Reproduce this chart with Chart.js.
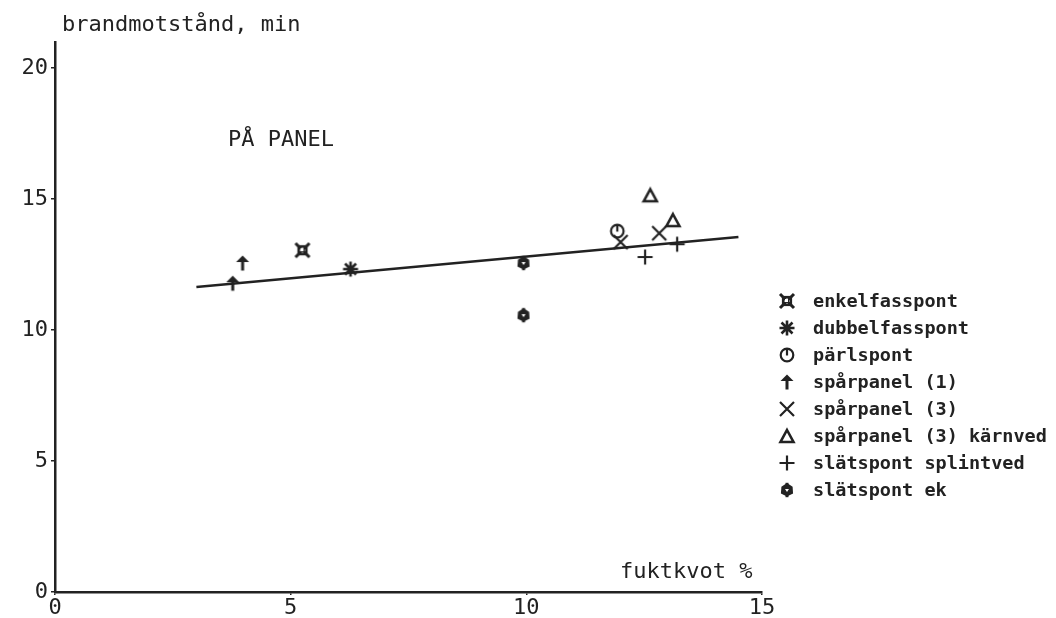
<!DOCTYPE html>
<html>
<head>
<meta charset="utf-8">
<script src="https://cdn.jsdelivr.net/npm/chart.js@4/dist/chart.umd.min.js"></script>
<style>
html,body{margin:0;padding:0;background:#fff;}
#wrap{width:1056px;height:618px;}
</style>
</head>
<body>
<div id="wrap"><canvas id="c" width="1056" height="618"></canvas></div>
<script>
// ---- data ----
const seriesNames = ["enkelfasspont","dubbelfasspont","pärlspont","spårpanel (1)","spårpanel (3)","spårpanel (3) kärnved","slätspont splintved","slätspont ek"];
const xEnkel = [5.25];        const yEnkel = [13.05];
const xDubbel = [6.27];       const yDubbel = [12.33];
const xParl = [11.93];        const yParl = [13.78];
const xSpar1 = [3.98, 3.77];  const ySpar1 = [12.56, 11.79];
const xSpar3 = [12.0, 12.82]; const ySpar3 = [13.36, 13.7];
const xKarn = [12.63, 13.11]; const yKarn = [15.15, 14.2];
const xSplint = [12.52, 13.2];const ySplint = [12.79, 13.28];
const xEk = [9.94, 9.94];     const yEk = [12.56, 10.57];
const xLine = [3.0, 14.5];    const yLine = [11.65, 13.55];
const xTicks = [0, 5, 10, 15];
const yTicks = [0, 5, 10, 15, 20];
const xTitle = "fuktkvot %";
const yTitle = "brandmotstånd, min";
const note = "PÅ PANEL";

// ---- marker images ----
const INK = '#222';
function mk(draw){
  const c = document.createElement('canvas'); c.width = 18; c.height = 18;
  const g = c.getContext('2d'); g.strokeStyle = INK; g.fillStyle = INK; g.lineCap='butt';
  draw(g); return c;
}
const mEnkel = mk(g=>{
  g.lineWidth=3; g.beginPath(); g.moveTo(2,2); g.lineTo(16,16); g.moveTo(16,2); g.lineTo(2,16); g.stroke();
  g.lineWidth=2.2; g.strokeRect(5,5,8,8);
  g.fillStyle='#fff'; g.fillRect(7,7,3,3);
});
const mDubbel = mk(g=>{
  g.lineWidth=2.6; g.beginPath();
  g.moveTo(9,1.5); g.lineTo(9,16.5); g.moveTo(1.5,9); g.lineTo(16.5,9);
  g.moveTo(3.5,3.5); g.lineTo(14.5,14.5); g.moveTo(14.5,3.5); g.lineTo(3.5,14.5); g.stroke();
});
const mParl = mk(g=>{
  g.lineWidth=2.2; g.beginPath(); g.arc(9,9,6.3,0,Math.PI*2); g.stroke();
  g.beginPath(); g.moveTo(9,2.5); g.lineTo(9,9.5); g.stroke();
});
const mArrow = mk(g=>{
  g.beginPath(); g.moveTo(9,1.5); g.lineTo(15.5,8); g.lineTo(2.5,8); g.closePath(); g.fill();
  g.fillRect(7.5,7,3,9.5);
});
const mX = mk(g=>{
  g.lineWidth=2.2; g.beginPath(); g.moveTo(2,2); g.lineTo(16,16); g.moveTo(16,2); g.lineTo(2,16); g.stroke();
});
const mTri = mk(g=>{
  g.lineWidth=2.6; g.lineJoin='miter'; g.beginPath(); g.moveTo(9,3); g.lineTo(15.5,15); g.lineTo(2.5,15); g.closePath(); g.stroke();
});
const mPlus = mk(g=>{
  g.lineWidth=2.2; g.beginPath(); g.moveTo(9,1.5); g.lineTo(9,16.5); g.moveTo(1.5,9); g.lineTo(16.5,9); g.stroke();
});
const mEk = mk(g=>{
  g.beginPath();
  for(let i=0;i<6;i++){const a=Math.PI/6+i*Math.PI/3; const r=(i%2?6.5:7); g.lineTo(9+r*Math.cos(a),9+r*Math.sin(a));}
  g.closePath(); g.fill();
  g.fillRect(7.5,1.8,3,2); g.fillRect(7.5,14.2,3,2);
  g.fillStyle='#fff'; g.beginPath(); g.moveTo(7,8); g.lineTo(11,8); g.lineTo(9,11); g.closePath(); g.fill();
});
const markers = [mEnkel,mDubbel,mParl,mArrow,mX,mTri,mPlus,mEk];

function pts(xs, ys){ return xs.map((x,i)=>({x:x, y:ys[i]})); }
const seriesX = [xEnkel,xDubbel,xParl,xSpar1,xSpar3,xKarn,xSplint,xEk];
const seriesY = [yEnkel,yDubbel,yParl,ySpar1,ySpar3,yKarn,ySplint,yEk];

const datasets = [{
  type:'line', label:'regression', data: pts(xLine,yLine),
  borderColor: INK, borderWidth: 2.5, pointRadius: 0, fill:false, order: 2
}];
seriesNames.forEach((n,i)=>{
  datasets.push({type:'scatter', label:n, data: pts(seriesX[i],seriesY[i]),
    pointStyle: markers[i], pointRadius: 9, order: 1});
});

const FONT = "'DejaVu Sans Mono', monospace";

const textPlugin = {
  id:'texts',
  afterDraw(chart){
    const ctx = chart.ctx, xs = chart.scales.x, ys = chart.scales.y;
    ctx.save();
    ctx.fillStyle = INK;
    ctx.font = "22px " + FONT;
    ctx.textBaseline = 'middle';
    ctx.textAlign = 'left';
    ctx.fillText(yTitle, xs.left + 7, 25);
    ctx.textAlign = 'right';
    ctx.fillText(xTitle, xs.getPixelForValue(14.8), ys.bottom - 20);
    ctx.textAlign = 'left';
    ctx.fillText(note, xs.getPixelForValue(3.67), ys.getPixelForValue(17.25));
    // legend
    ctx.font = "bold 18.5px " + FONT;
    const x0 = xs.right + 25, tx = xs.right + 51;
    let y = 301;
    seriesNames.forEach((n,i)=>{
      ctx.drawImage(markers[i], x0 - 9, y - 9);
      ctx.fillText(n, tx, y + 1);
      y += 27;
    });
    ctx.restore();
  }
};

new Chart(document.getElementById('c'), {
  data: { datasets },
  plugins: [textPlugin],
  options: {
    responsive:false, animation:false, events:[],
    layout:{ padding:{ left:0, right:294, top:42, bottom:0 } },
    plugins:{ legend:{display:false}, tooltip:{enabled:false} },
    scales:{
      x:{ type:'linear', min:0, max:15,
        afterBuildTicks(s){ s.ticks = xTicks.map(v=>({value:v})); },
        afterFit(s){ s.height = 26; },
        border:{ color:INK, width:2.5 },
        grid:{ drawOnChartArea:false, drawTicks:true, tickLength:3, color:INK, lineWidth:1.5 },
        ticks:{ color:INK, font:{family:FONT, size:22}, padding:0, maxRotation:0 }
      },
      y:{ type:'linear', min:0, max:21,
        afterBuildTicks(s){ s.ticks = yTicks.map(v=>({value:v})); },
        afterFit(s){ s.width = 55; },
        border:{ color:INK, width:2.5 },
        grid:{ drawOnChartArea:false, drawTicks:true, tickLength:4, color:INK, lineWidth:1.5 },
        ticks:{ color:INK, font:{family:FONT, size:22}, padding:3 }
      }
    }
  }
});
</script>
</body>
</html>
